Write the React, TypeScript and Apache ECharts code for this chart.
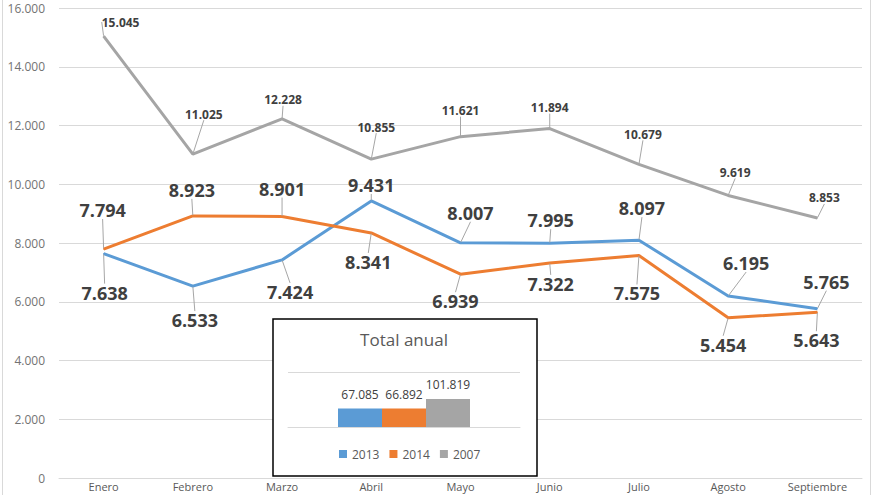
import React, { useEffect, useRef } from "react";
import * as echarts from "echarts";

const months = ["Enero", "Febrero", "Marzo", "Abril", "Mayo", "Junio", "Julio", "Agosto", "Septiembre"];
const values2007 = [15045, 11025, 12228, 10855, 11621, 11894, 10679, 9619, 8853];
const values2013 = [7638, 6533, 7424, 9431, 8007, 7995, 8097, 6195, 5765];
const values2014 = [7794, 8923, 8901, 8341, 6939, 7322, 7575, 5454, 5643];
const totalYears = ["2013", "2014", "2007"];
const totals = [67085, 66892, 101819];

// label offsets (label centre relative to data point), pixels
const offsets2007 = [[17, -14], [11, -40], [1, -19], [5, -32], [0, -26], [0, -21], [4, -30], [7, -23], [7, -20]];
const offsets2013 = [[1, 39], [2, 34], [8, 32], [0, -16], [10, -30], [1, -23], [3, -32], [18, -33], [9, -27]];
const offsets2014 = [[-1, -39], [-1, -26], [0, -28], [-3, 29], [-5, 27], [1, 21], [-2, 38], [-5, 27], [-1, 28]];

const COLORS: Record<string, string> = { "2013": "#5b9bd5", "2014": "#ed7d31", "2007": "#a5a5a5" };

function fmt(v: number): string {
  if (v < 1000) return String(v);
  const th = Math.floor(v / 1000);
  const rest = String(v % 1000).padStart(3, "0");
  return fmt(th) + "." + rest;
}

function lineSeries(name: string, data: number[], offsets: number[][], big: boolean) {
  return {
    type: "line",
    name,
    xAxisIndex: 0,
    yAxisIndex: 0,
    data,
    symbol: "circle",
    symbolSize: 1,
    showSymbol: true,
    lineStyle: { color: COLORS[name], width: 3 },
    itemStyle: { color: COLORS[name] },
    label: {
      show: true,
      position: "inside",
      formatter: (p: any) => fmt(p.value),
      fontFamily: "Open Sans, Noto Sans, sans-serif",
      fontWeight: "bold",
      fontSize: big ? 18 : 12,
      color: "#404040",
    },
    labelLine: { show: true, lineStyle: { color: "#a6a6a6", width: 1 } },
    labelLayout: (p: any) => ({ dx: offsets[p.dataIndex][0], dy: offsets[p.dataIndex][1] }),
    emphasis: { disabled: true },
    z: 2,
  };
}

export default function App() {
  const ref = useRef<HTMLDivElement>(null);
  useEffect(() => {
    if (!ref.current) return;
    const chart = echarts.init(ref.current, null, { renderer: "svg" });
    const option: any = {
      animation: false,
      backgroundColor: "#ffffff",
      textStyle: { fontFamily: "Open Sans, Noto Sans, sans-serif" },
      title: {
        text: "Total anual",
        left: 404,
        top: 331,
        textAlign: "center",
        padding: 0,
        textStyle: { fontSize: 17, fontWeight: "normal", color: "#595959", fontFamily: "Open Sans, Noto Sans, sans-serif" },
      },
      legend: {
        data: totalYears,
        left: 339,
        top: 448,
        padding: 0,
        icon: "rect",
        itemWidth: 8,
        itemHeight: 8,
        itemGap: 10,
        textStyle: { fontSize: 12, color: "#595959", fontFamily: "Open Sans, Noto Sans, sans-serif" },
        selectedMode: false,
      },
      grid: [
        { left: 59, top: 8, width: 803, height: 470 },
        { left: 288, top: 372, width: 232, height: 55 },
      ],
      xAxis: [
        {
          type: "category",
          gridIndex: 0,
          data: months,
          boundaryGap: true,
          axisLine: { show: true, lineStyle: { color: "#d9d9d9" } },
          axisTick: { show: false },
          axisLabel: { color: "#595959", fontSize: 11, margin: 3 },
        },
        {
          type: "category",
          gridIndex: 1,
          data: [""],
          axisLine: { show: true, lineStyle: { color: "#d9d9d9" } },
          axisTick: { show: false },
          axisLabel: { show: false },
          z: 3,
        },
      ],
      yAxis: [
        {
          type: "value",
          gridIndex: 0,
          min: 0,
          max: 16000,
          interval: 2000,
          axisLine: { show: false },
          axisTick: { show: false },
          axisLabel: { color: "#737373", fontSize: 12, margin: 14, formatter: (v: number) => fmt(v) },
          splitLine: { lineStyle: { color: "#d9d9d9", width: 1 } },
        },
        {
          type: "value",
          gridIndex: 1,
          min: 0,
          max: 200000,
          interval: 200000,
          axisLine: { show: false },
          axisTick: { show: false },
          axisLabel: { show: false },
          splitLine: { lineStyle: { color: "#d9d9d9", width: 1 } },
          z: 3,
        },
      ],
      graphic: [
        { type: "line", shape: { x1: 2.5, y1: 0, x2: 2.5, y2: 495 }, style: { stroke: "#d9d9d9", lineWidth: 1 }, z: 0 },
        { type: "line", shape: { x1: 870.5, y1: 0, x2: 870.5, y2: 495 }, style: { stroke: "#d9d9d9", lineWidth: 1 }, z: 0 },
        {
          type: "rect",
          shape: { x: 273, y: 319, width: 264, height: 157 },
          style: { fill: "#ffffff", stroke: "#000000", lineWidth: 1.5 },
          z: 1,
        },
      ],
      series: [
        lineSeries("2007", values2007, offsets2007, false),
        lineSeries("2013", values2013, offsets2013, true),
        lineSeries("2014", values2014, offsets2014, true),
        ...totalYears.map((y, i) => ({
          type: "bar",
          name: y,
          xAxisIndex: 1,
          yAxisIndex: 1,
          data: [totals[i]],
          barWidth: 44,
          barGap: "0%",
          itemStyle: { color: COLORS[y] },
          label: {
            show: true,
            position: "top",
            distance: 8,
            formatter: (p: any) => fmt(p.value),
            fontSize: 12,
            color: "#404040",
            fontFamily: "Open Sans, Noto Sans, sans-serif",
          },
          emphasis: { disabled: true },
          z: 4,
        })),
      ],
    };
    chart.setOption(option);
    return () => chart.dispose();
  }, []);
  return <div ref={ref} style={{ position: "fixed", left: 0, top: 0, width: 880, height: 495 }} />;
}
